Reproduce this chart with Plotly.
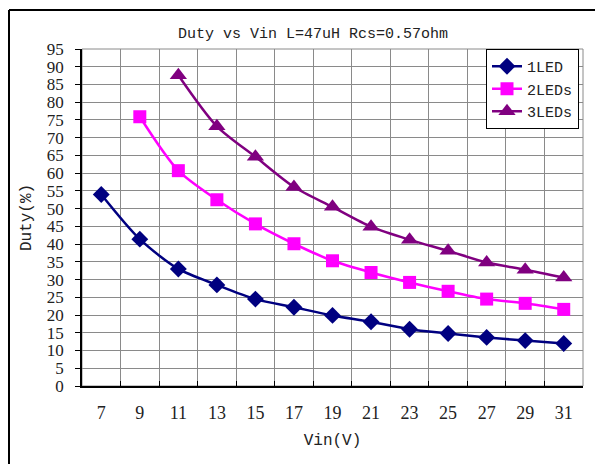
import plotly.graph_objects as go

vin = ["7", "9", "11", "13", "15", "17", "19", "21", "23", "25", "27", "29", "31"]
led1 = [54, 41.4, 33, 28.5, 24.5, 22.2, 19.9, 18.1, 16.0, 14.8, 13.7, 12.8, 12.0]
vin2 = vin[1:]
led2 = [75.9, 60.7, 52.5, 45.7, 40.1, 35.3, 32.0, 29.2, 26.7, 24.5, 23.3, 21.6]
vin3 = vin[2:]
led3 = [87.6, 73.2, 64.6, 56.1, 50.5, 44.9, 41.2, 38.1, 34.8, 32.8, 30.6]
yticks = list(range(0, 100, 5))

# page body has an 8px margin; figure coordinates are offset accordingly
L, T, W, H = 74, 41, 501, 337

fig = go.Figure()
fig.add_trace(go.Scatter(x=vin, y=led1, name="1LED", mode="lines+markers",
                         line=dict(color="#000080", width=2.5, shape="spline", smoothing=0.8),
                         marker=dict(symbol="diamond", size=13, color="#000080")))
fig.add_trace(go.Scatter(x=vin2, y=led2, name="2LEDs", mode="lines+markers",
                         line=dict(color="#FF00FF", width=2.5, shape="spline", smoothing=0.8),
                         marker=dict(symbol="square", size=13, color="#FF00FF")))
fig.add_trace(go.Scatter(x=vin3, y=led3, name="3LEDs", mode="lines+markers",
                         line=dict(color="#800080", width=2.5, shape="spline", smoothing=0.8),
                         marker=dict(symbol="triangle-up", size=15, color="#800080")))

fig.update_layout(
    width=603, height=464,
    margin=dict(l=L, r=603 - L - W, t=T, b=464 - T - H, autoexpand=False),
    paper_bgcolor="white", plot_bgcolor="white",
    title=dict(text="Duty vs Vin L=47uH Rcs=0.57ohm", x=305/603, xanchor="center",
               y=1 - 25/464, yanchor="middle", automargin=False,
               font=dict(family="Liberation Mono", size=15, color="#222")),
    xaxis=dict(type="category", categoryorder="array", categoryarray=vin,
               tickson="boundaries", showgrid=True, gridcolor="#8a8a8a", gridwidth=1,
               showline=True, linecolor="black", linewidth=1.5,
               ticks="inside", ticklen=5, tickcolor="black", automargin=False,
               ticklabelstandoff=10,
               tickfont=dict(family="Liberation Serif", size=18, color="#222"),
               title=dict(text="Vin(V)", font=dict(family="Liberation Mono", size=16, color="#222"),
                          standoff=11),
               range=[-0.5, 12.5], fixedrange=True),
    yaxis=dict(range=[0, 95], tickvals=yticks, showgrid=True, gridcolor="#8a8a8a", gridwidth=1,
               showline=True, linecolor="black", linewidth=1.5,
               ticks="outside", ticklen=5, tickcolor="black", automargin=False,
               ticklabelstandoff=8,
               tickfont=dict(family="Liberation Serif", size=17, color="#222"),
               title=dict(text="Duty(%)", font=dict(family="Liberation Mono", size=16, color="#222"),
                          standoff=11),
               zeroline=False, fixedrange=True),
    legend=dict(x=(478 - L) / W, y=1, xanchor="left", yanchor="top",
                bgcolor="white", bordercolor="black", borderwidth=1,
                font=dict(family="Liberation Mono", size=15, color="#222"),
                tracegroupgap=0),
    shapes=[
        dict(type="rect", xref="paper", yref="paper", x0=0, x1=1, y0=0, y1=1,
             line=dict(color="#8a8a8a", width=1), layer="below"),
        dict(type="line", xref="paper", yref="paper", x0=(1 - L) / W, x1=(1 - L) / W,
             y0=(T + H - 2) / H, y1=-0.4, line=dict(color="black", width=2)),
        dict(type="line", xref="paper", yref="paper", x0=(1 - L) / W, x1=1.2,
             y0=(T + H - 2) / H, y1=(T + H - 2) / H, line=dict(color="black", width=2)),
    ],
)

fig.write_html("out.html")
